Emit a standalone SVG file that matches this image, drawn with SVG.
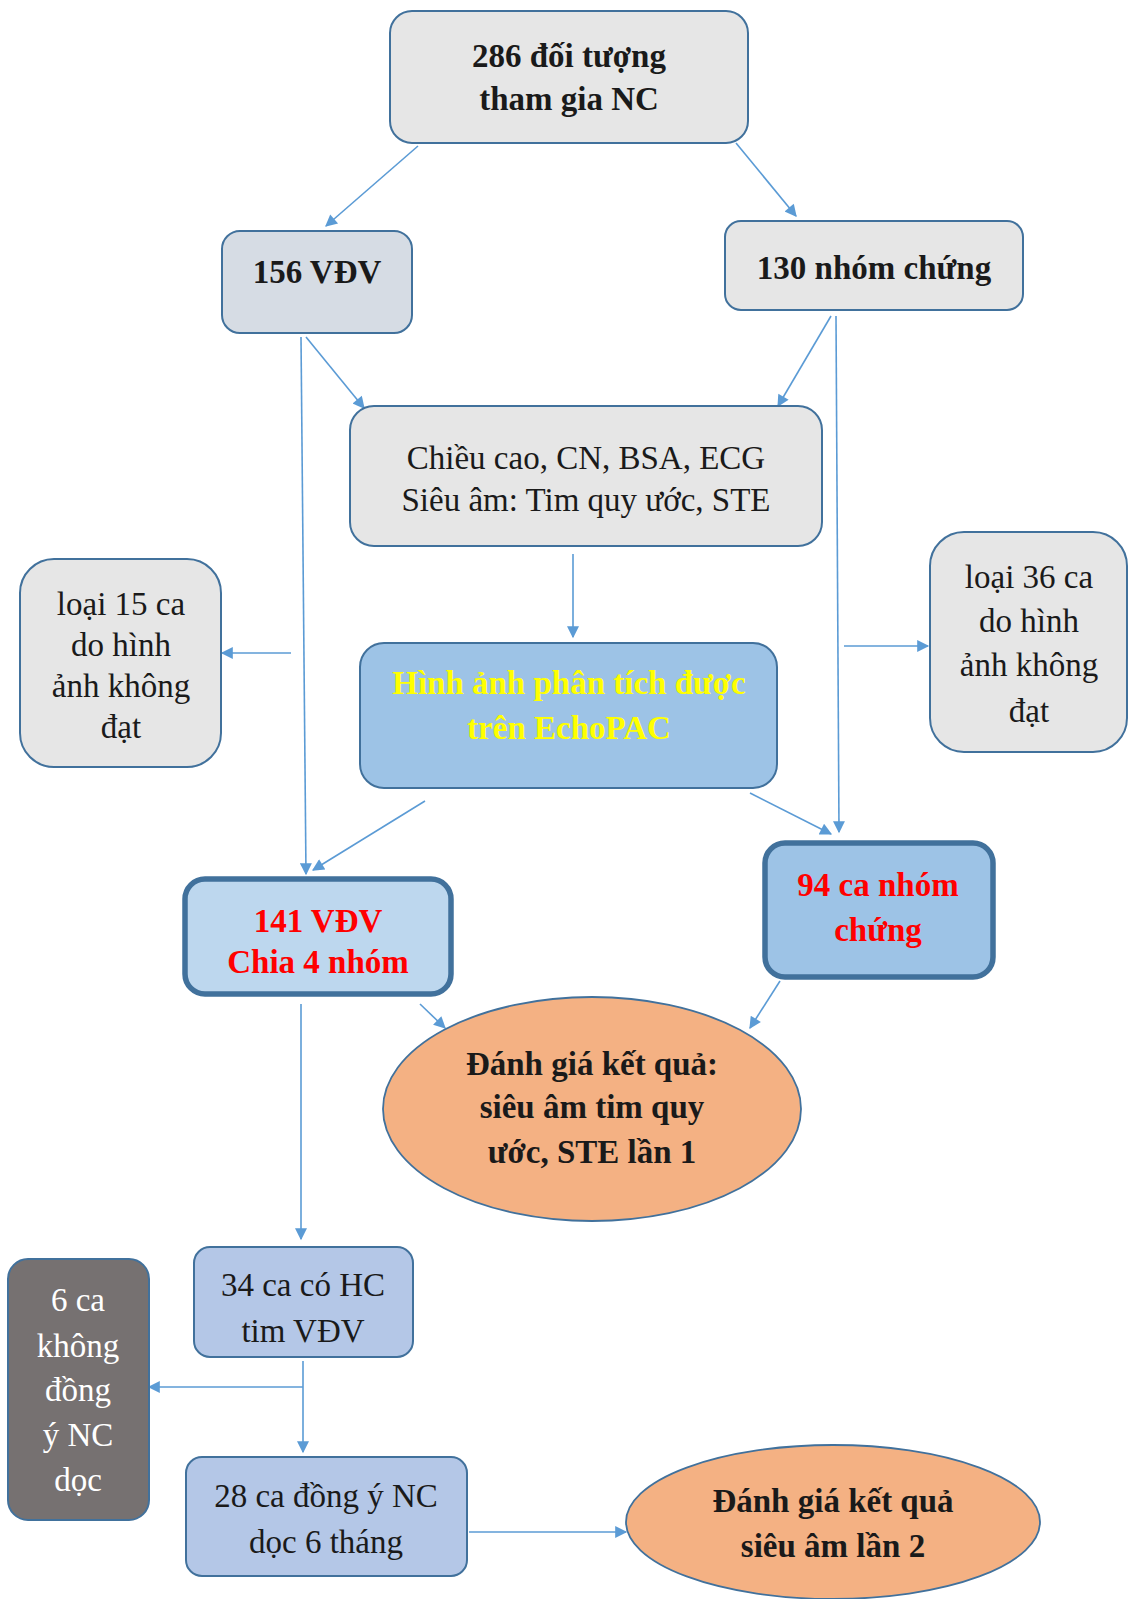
<svg xmlns="http://www.w3.org/2000/svg" width="1131" height="1599" viewBox="0 0 1131 1599">
<style>
text{font-family:"Liberation Serif","Tinos","Times New Roman","DejaVu Serif",serif;font-size:33px;text-anchor:middle}
.b{font-weight:bold}
.box{stroke:#41719c;stroke-width:2}
.thick{stroke:#41719c;stroke-width:5.5}
.gray{fill:#e6e6e6}
.c{stroke:#5b9bd5;stroke-width:1.6;fill:none;marker-end:url(#ah)}
.y{fill:#ffff00}
.r{fill:#ff0000}
.w{fill:#ffffff}
.k{fill:#1a1a1a}
</style>
<defs>
<marker id="ah" viewBox="0 0 10 10" refX="9" refY="5" markerWidth="14" markerHeight="12" markerUnits="userSpaceOnUse" orient="auto">
<path d="M0,0 L10,5 L0,10 z" fill="#5b9bd5"/>
</marker>
</defs>
<rect width="1131" height="1599" fill="#ffffff"/>
<g id="connectors">
<path class="c" d="M418,146 L326,226"/>
<path class="c" d="M736,143 L796,216"/>
<path class="c" d="M306,337 L364,408"/>
<path class="c" d="M831,316 L778,406"/>
<path class="c" d="M301,337 L306,874"/>
<path class="c" d="M836,316 L839,832"/>
<path class="c" d="M573,554 L573,637"/>
<path class="c" d="M291,653 L222,653"/>
<path class="c" d="M844,646 L928,646"/>
<path class="c" d="M425,801 L313,870"/>
<path class="c" d="M750,793 L831,834"/>
<path class="c" d="M420,1004 L445,1028"/>
<path class="c" d="M780,981 L750,1028"/>
<path class="c" d="M301,1004 L301,1239"/>
<path class="c" d="M303,1361 L303,1452"/>
<path class="c" d="M303,1387 L149,1387"/>
<path class="c" d="M469,1532 L626,1532"/>
</g>
<g id="n286">
<rect class="box gray" x="390" y="11" width="358" height="132" rx="22"/>
<text class="b k" x="569" y="67">286 đối tượng</text>
<text class="b k" x="569" y="110">tham gia NC</text>
</g>
<g id="n156">
<rect class="box" fill="#d6dce4" x="222" y="231" width="190" height="102" rx="18"/>
<text class="b k" x="317" y="283">156 VĐV</text>
</g>
<g id="n130">
<rect class="box gray" x="725" y="221" width="298" height="89" rx="16"/>
<text class="b k" x="874" y="279">130 nhóm chứng</text>
</g>
<g id="measure">
<rect class="box gray" x="350" y="406" width="472" height="140" rx="24"/>
<text class="k" x="586" y="469">Chiều cao, CN, BSA, ECG</text>
<text class="k" x="586" y="511">Siêu âm: Tim quy ước, STE</text>
</g>
<g id="excl15">
<rect class="box gray" x="20" y="559" width="201" height="208" rx="34"/>
<text class="k" x="121" y="615">loại 15 ca</text>
<text class="k" x="121" y="656">do hình</text>
<text class="k" x="121" y="697">ảnh không</text>
<text class="k" x="121" y="738">đạt</text>
</g>
<g id="excl36">
<rect class="box gray" x="930" y="532" width="197" height="220" rx="34"/>
<text class="k" x="1029" y="588">loại 36 ca</text>
<text class="k" x="1029" y="632">do hình</text>
<text class="k" x="1029" y="676">ảnh không</text>
<text class="k" x="1029" y="722">đạt</text>
</g>
<g id="echopac">
<rect class="box" fill="#9dc3e6" x="360" y="643" width="417" height="145" rx="24"/>
<text class="b y" x="569" y="694">Hình ảnh phân tích được</text>
<text class="b y" x="569" y="739">trên EchoPAC</text>
</g>
<g id="n141">
<rect class="thick" fill="#bdd7ee" x="185" y="879" width="266" height="115" rx="20"/>
<text class="b r" x="318" y="932">141 VĐV</text>
<text class="b r" x="318" y="973">Chia 4 nhóm</text>
</g>
<g id="n94">
<rect class="thick" fill="#9dc3e6" x="765" y="843" width="228" height="134" rx="20"/>
<text class="b r" x="878" y="896">94 ca nhóm</text>
<text class="b r" x="878" y="941">chứng</text>
</g>
<g id="eval1">
<ellipse cx="592" cy="1109" rx="209" ry="112" fill="#f4b183" stroke="#41719c" stroke-width="1.8"/>
<text class="b k" x="592" y="1075">Đánh giá kết quả:</text>
<text class="b k" x="592" y="1118">siêu âm tim quy</text>
<text class="b k" x="592" y="1163">ước, STE lần 1</text>
</g>
<g id="n34">
<rect class="box" fill="#b4c7e7" x="194" y="1247" width="219" height="110" rx="16"/>
<text class="k" x="303" y="1296">34 ca có HC</text>
<text class="k" x="303" y="1342">tim VĐV</text>
</g>
<g id="n6">
<rect class="box" fill="#767171" x="8" y="1259" width="141" height="261" rx="20"/>
<text class="w" x="78" y="1311">6 ca</text>
<text class="w" x="78" y="1357">không</text>
<text class="w" x="78" y="1401">đồng</text>
<text class="w" x="78" y="1446">ý NC</text>
<text class="w" x="78" y="1491">dọc</text>
</g>
<g id="n28">
<rect class="box" fill="#b4c7e7" x="186" y="1457" width="281" height="119" rx="16"/>
<text class="k" x="326" y="1507">28 ca đồng ý NC</text>
<text class="k" x="326" y="1553">dọc 6 tháng</text>
</g>
<g id="eval2">
<ellipse cx="833" cy="1522" rx="207" ry="77" fill="#f4b183" stroke="#41719c" stroke-width="1.8"/>
<text class="b k" x="833" y="1512">Đánh giá kết quả</text>
<text class="b k" x="833" y="1557">siêu âm lần 2</text>
</g>
</svg>
